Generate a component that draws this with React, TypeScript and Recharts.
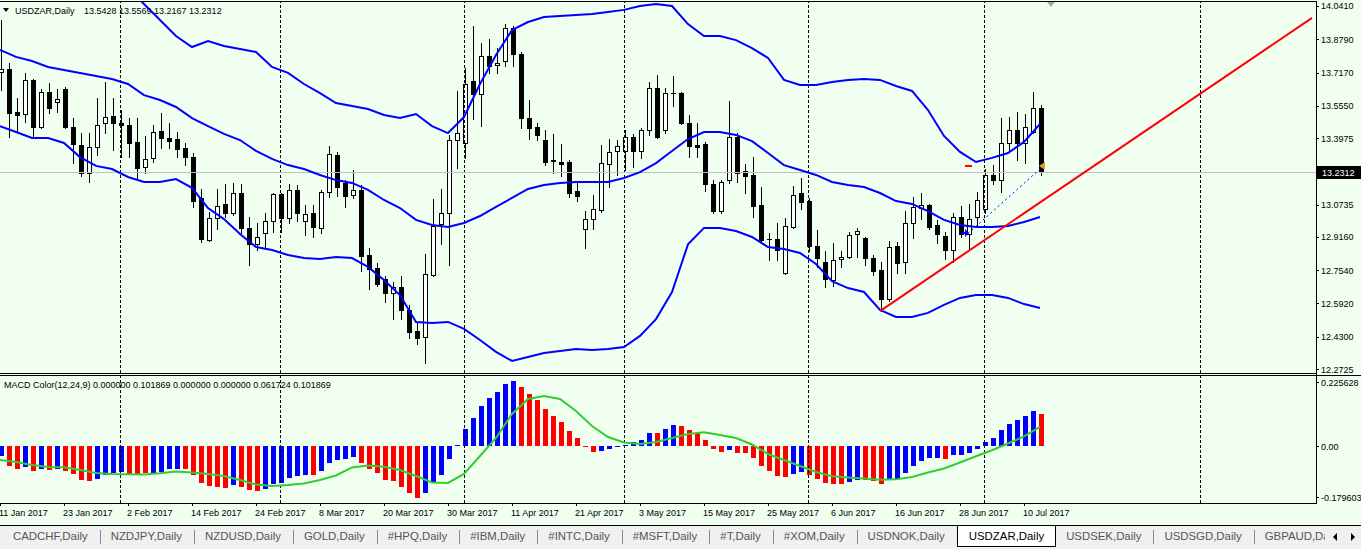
import React from 'react';
import { ComposedChart, Bar, Line, XAxis, YAxis, ReferenceLine, ReferenceDot } from 'recharts';

const FONT = '"Liberation Sans", Arial, sans-serif';
const BG = '#F0FFF0';

// ---------- Data ----------
const symbolName = 'USDZAR,Daily';

const opens = [
  13.720, 13.734, 13.525, 13.515, 13.681, 13.452, 13.622, 13.573, 13.637, 13.452,
  13.364, 13.228, 13.354, 13.471, 13.505, 13.471, 13.461, 13.379, 13.257, 13.301,
  13.432, 13.398, 13.393, 13.349, 13.305, 13.106, 12.901, 13.008, 13.077, 13.033,
  13.130, 12.960, 12.882, 12.935, 12.994, 13.125, 13.008, 13.145, 12.994, 13.033,
  12.960, 13.135, 13.315, 13.179, 13.120, 13.145, 12.828, 12.765, 12.711, 12.643,
  12.672, 12.560, 12.458, 12.429, 12.731, 12.979, 13.033, 13.388, 13.374, 13.676,
  13.612, 13.797, 13.754, 13.773, 13.934, 13.807, 13.495, 13.452, 13.388, 13.291,
  13.281, 13.281, 13.140, 12.955, 13.003, 13.047, 13.271, 13.335, 13.335, 13.403,
  13.335, 13.437, 13.642, 13.437, 13.617, 13.617, 13.471, 13.364, 13.369, 13.174,
  13.042, 13.193, 13.403, 13.237, 13.218, 13.072, 12.906, 12.906, 12.740, 12.965,
  13.130, 13.091, 12.872, 12.794, 12.706, 12.809, 12.818, 12.930, 12.911, 12.813,
  12.755, 12.614, 12.872, 12.794, 12.984, 13.057, 13.072, 12.974, 12.921, 12.852,
  13.013, 12.930, 13.013, 13.052, 13.218, 13.193, 13.374, 13.437, 13.374, 13.427,
  13.5428,
];
const highs = [
  13.973, 13.763, 13.593, 13.715, 13.685, 13.637, 13.666, 13.637, 13.646, 13.495,
  13.422, 13.422, 13.593, 13.671, 13.593, 13.534, 13.495, 13.495, 13.408, 13.461,
  13.520, 13.471, 13.427, 13.374, 13.325, 13.150, 13.038, 13.150, 13.174, 13.179,
  13.174, 13.013, 12.984, 13.033, 13.130, 13.130, 13.174, 13.169, 13.072, 13.072,
  13.145, 13.359, 13.330, 13.193, 13.242, 13.169, 12.862, 12.789, 12.726, 12.697,
  12.726, 12.585, 12.502, 12.833, 13.101, 13.150, 13.413, 13.627, 13.739, 13.944,
  13.861, 13.880, 13.836, 13.953, 13.944, 13.817, 13.583, 13.471, 13.437, 13.418,
  13.369, 13.291, 13.184, 13.042, 13.120, 13.364, 13.393, 13.388, 13.437, 13.418,
  13.447, 13.671, 13.705, 13.642, 13.700, 13.622, 13.510, 13.471, 13.379, 13.193,
  13.193, 13.578, 13.422, 13.271, 13.305, 13.159, 12.935, 12.984, 13.008, 13.164,
  13.203, 13.106, 12.950, 12.848, 12.887, 12.848, 12.940, 12.960, 12.916, 12.828,
  12.794, 12.896, 12.891, 13.042, 13.111, 13.130, 13.077, 12.999, 12.940, 13.033,
  13.067, 13.077, 13.135, 13.247, 13.266, 13.495, 13.500, 13.525, 13.515, 13.622,
  13.5569,
];
const lows = [
  13.632, 13.403, 13.427, 13.476, 13.403, 13.447, 13.520, 13.525, 13.447, 13.276,
  13.213, 13.184, 13.315, 13.422, 13.340, 13.305, 13.305, 13.193, 13.228, 13.281,
  13.349, 13.349, 13.305, 13.266, 13.062, 12.891, 12.896, 12.955, 13.013, 13.023,
  12.935, 12.779, 12.852, 12.862, 12.940, 12.940, 12.984, 12.994, 12.926, 12.916,
  12.935, 13.111, 13.116, 13.062, 13.106, 12.750, 12.662, 12.677, 12.599, 12.516,
  12.516, 12.424, 12.395, 12.302, 12.726, 12.882, 12.779, 13.252, 13.301, 13.490,
  13.456, 13.715, 13.715, 13.749, 13.749, 13.447, 13.393, 13.388, 13.266, 13.228,
  13.213, 13.111, 13.091, 12.862, 12.955, 13.038, 13.159, 13.218, 13.242, 13.257,
  13.301, 13.413, 13.400, 13.422, 13.554, 13.466, 13.305, 13.305, 13.140, 13.033,
  13.033, 13.179, 13.184, 13.130, 13.013, 12.891, 12.804, 12.804, 12.736, 12.960,
  13.052, 12.848, 12.770, 12.672, 12.677, 12.770, 12.813, 12.818, 12.779, 12.731,
  12.555, 12.604, 12.740, 12.740, 12.911, 13.003, 12.955, 12.887, 12.809, 12.794,
  12.916, 12.862, 12.974, 13.033, 13.174, 13.135, 13.330, 13.291, 13.276, 13.422,
  13.2167,
];
const closes = [
  13.734, 13.520, 13.510, 13.681, 13.452, 13.622, 13.544, 13.588, 13.452, 13.369,
  13.228, 13.354, 13.461, 13.500, 13.471, 13.461, 13.374, 13.252, 13.296, 13.427,
  13.398, 13.383, 13.344, 13.305, 13.091, 12.906, 13.008, 13.067, 13.033, 13.130,
  12.960, 12.882, 12.916, 12.994, 13.125, 13.008, 13.145, 13.033, 13.028, 12.965,
  13.135, 13.320, 13.159, 13.116, 13.145, 12.823, 12.760, 12.687, 12.643, 12.672,
  12.560, 12.453, 12.424, 12.736, 12.969, 13.033, 13.388, 13.422, 13.661, 13.612,
  13.797, 13.749, 13.763, 13.934, 13.807, 13.495, 13.447, 13.413, 13.281, 13.286,
  13.271, 13.130, 13.116, 13.003, 13.052, 13.276, 13.330, 13.359, 13.403, 13.335,
  13.437, 13.642, 13.403, 13.617, 13.617, 13.471, 13.359, 13.354, 13.174, 13.042,
  13.184, 13.403, 13.228, 13.213, 13.067, 12.901, 12.906, 12.852, 12.969, 13.120,
  13.086, 12.872, 12.813, 12.711, 12.804, 12.818, 12.926, 12.945, 12.813, 12.750,
  12.614, 12.867, 12.789, 12.984, 13.062, 13.072, 12.965, 12.930, 12.852, 13.013,
  12.930, 13.003, 13.096, 13.218, 13.193, 13.374, 13.437, 13.374, 13.452, 13.544,
  13.2312,
];

// Bollinger bands, read every second bar (bars 0, 2, 4 ... 130)
const bbUpper = [
  14.411, 14.392, 14.372, 14.353, 14.323, 14.289, 14.246, 14.197, 14.129, 14.051,
  13.973, 13.895, 13.841, 13.870, 13.846, 13.832, 13.817, 13.744, 13.715, 13.661,
  13.617, 13.568, 13.554, 13.539, 13.510, 13.495, 13.515, 13.456, 13.422, 13.500,
  13.661, 13.802, 13.924, 13.963, 13.987, 13.992, 13.997, 14.002, 14.012, 14.022,
  14.041, 14.051, 14.041, 13.953, 13.895, 13.895, 13.875, 13.836, 13.788, 13.681,
  13.656, 13.656, 13.671, 13.681, 13.685, 13.681, 13.651, 13.627, 13.534, 13.408,
  13.330, 13.281, 13.301, 13.325, 13.379, 13.466,
];
const bbMiddle = [
  13.827, 13.793, 13.773, 13.744, 13.729, 13.715, 13.700, 13.685, 13.661, 13.607,
  13.583, 13.549, 13.495, 13.456, 13.418, 13.388, 13.335, 13.296, 13.266, 13.247,
  13.218, 13.193, 13.179, 13.145, 13.096, 13.057, 12.999, 12.974, 12.965, 12.984,
  13.018, 13.062, 13.106, 13.150, 13.169, 13.179, 13.184, 13.184, 13.184, 13.203,
  13.232, 13.276, 13.335, 13.393, 13.427, 13.427, 13.413, 13.383, 13.325, 13.266,
  13.242, 13.218, 13.184, 13.169, 13.159, 13.130, 13.091, 13.077, 13.042, 12.999,
  12.974, 12.965, 12.965, 12.969, 12.989, 13.013,
];
const bbLower = [
  13.456, 13.427, 13.398, 13.398, 13.374, 13.305, 13.262, 13.247, 13.208, 13.184,
  13.184, 13.198, 13.155, 13.057, 13.003, 12.930, 12.867, 12.852, 12.828, 12.813,
  12.809, 12.818, 12.813, 12.770, 12.706, 12.633, 12.502, 12.497, 12.502, 12.468,
  12.414, 12.356, 12.312, 12.331, 12.351, 12.361, 12.370, 12.365, 12.370, 12.380,
  12.434, 12.516, 12.648, 12.880, 12.960, 12.960, 12.945, 12.916, 12.867, 12.857,
  12.838, 12.784, 12.701, 12.667, 12.648, 12.560, 12.526, 12.526, 12.546, 12.585,
  12.619, 12.633, 12.633, 12.619, 12.589, 12.570,
];

// MACD histogram (one per bar) and colour (b = rising / blue, r = falling / red)
const macdHist = [
  -0.0307, -0.0624, -0.0709, -0.0646, -0.0772, -0.0728, -0.0741, -0.0709, -0.0772, -0.0867,
  -0.1067, -0.1089, -0.1026, -0.0918, -0.0855, -0.0804, -0.0877, -0.0886, -0.0860, -0.0855,
  -0.0804, -0.0728, -0.0709, -0.0728, -0.0899, -0.1152, -0.1257, -0.1298, -0.1320, -0.1216,
  -0.1279, -0.1384, -0.1406, -0.1342, -0.1184, -0.1152, -0.1004, -0.0940, -0.0899, -0.0915,
  -0.0772, -0.0519, -0.0420, -0.0405, -0.0329, -0.0519, -0.0709, -0.0855, -0.1067, -0.1108,
  -0.1298, -0.1469, -0.1627, -0.1488, -0.1152, -0.0899, -0.0393, 0.0032, 0.0548, 0.0905,
  0.1285, 0.1539, 0.1729, 0.1972, 0.2067, 0.1887, 0.1656, 0.1466, 0.1181, 0.0959,
  0.0769, 0.0484, 0.0263, -0.0016, -0.0171, -0.0139, -0.0085, -0.0032, 0.0041, 0.0127,
  0.0199, 0.0431, 0.0412, 0.0548, 0.0674, 0.0643, 0.0516, 0.0431, 0.0199, -0.0085,
  -0.0171, -0.0117, -0.0203, -0.0222, -0.0361, -0.0614, -0.0772, -0.0940, -0.0962, -0.0877,
  -0.0804, -0.0899, -0.1026, -0.1152, -0.1194, -0.1203, -0.1121, -0.1067, -0.1076, -0.1099,
  -0.1194, -0.1067, -0.1045, -0.0836, -0.0624, -0.0456, -0.0380, -0.0361, -0.0402, -0.0275,
  -0.0266, -0.0203, -0.0085, 0.0146, 0.0272, 0.0516, 0.0706, 0.0833, 0.0969, 0.1127,
  0.101869,
];
const macdColors =
  'brrbrbrbrr' + 'rrbbbbrrrb' + 'bbbrrrrrrb' + 'rrrbbbbbbr' + 'bbbbbrrrrr' +
  'rrrbbbbbbb' + 'bbbbbrrrrr' + 'rrrrrbbbbb' + 'bbrbbrrrrr' + 'rbrrrrrrrb' +
  'brrrrrbbrr' + 'rbbbbbbbrb' + 'bbbbbbbbbb' + 'r';
// Signal line, read every second bar
const macdSignal = [
  -0.0434, -0.0497, -0.0592, -0.0655, -0.0665, -0.0750, -0.0845, -0.0877, -0.0886, -0.0896,
  -0.0855, -0.0798, -0.0829, -0.0877, -0.0940, -0.1067, -0.1209, -0.1257, -0.1225, -0.1178,
  -0.1067, -0.0924, -0.0671, -0.0608, -0.0649, -0.0750, -0.0940, -0.1146, -0.1162, -0.0877,
  -0.0307, 0.0263, 0.1023, 0.1498, 0.1592, 0.1498, 0.1118, 0.0643, 0.0294, 0.0120,
  0.0073, 0.0136, 0.0263, 0.0389, 0.0443, 0.0358, 0.0263, 0.0057, -0.0244, -0.0434,
  -0.0624, -0.0814, -0.0947, -0.0988, -0.1019, -0.1061, -0.1048, -0.0972, -0.0829, -0.0703,
  -0.0513, -0.0317, -0.0127, 0.0089, 0.0310, 0.0617,
];
const macdHeaderValues = [0, 0.101869, 0, 0, 0.061724, 0.101869];

// Drawn objects
const trendLine = [{ i: 110, v: 12.555 }, { i: 164, v: 13.983 }];
const tradeLine = [{ i: 121, v: 12.933 }, { i: 130, v: 13.247 }];
const tradeOpen = { i: 121, v: 12.935 };
const tradeStop = { i: 121, v: 13.263 };
const tradeClose = { i: 130, v: 13.262 };

// Axes
const totalSlots = 165;
const bandStep = 2;
const monthStarts = [15, 35, 58, 78, 101, 123, 150];
const dateTicks = [0, 8, 16, 24, 32, 40, 48, 56, 64, 72, 80, 88, 96, 104, 112, 120, 128];
const dateLabels = [
  '11 Jan 2017', '23 Jan 2017', '2 Feb 2017', '14 Feb 2017', '24 Feb 2017', '8 Mar 2017',
  '20 Mar 2017', '30 Mar 2017', '11 Apr 2017', '21 Apr 2017', '3 May 2017', '15 May 2017',
  '25 May 2017', '6 Jun 2017', '16 Jun 2017', '28 Jun 2017', '10 Jul 2017',
];
const priceTicks = [14.041, 13.879, 13.717, 13.555, 13.3975, 13.0735, 12.916, 12.754, 12.592, 12.43, 12.2725];
const priceDomain = [12.2533, 14.0653];
const macdTicks = [0.225628, 0, -0.179603];
const macdDomain = [-0.179603, 0.225628];

const tabs = [
  'CADCHF,Daily', 'NZDJPY,Daily', 'NZDUSD,Daily', 'GOLD,Daily', '#HPQ,Daily', '#IBM,Daily',
  '#INTC,Daily', '#MSFT,Daily', '#T,Daily', '#XOM,Daily', 'USDNOK,Daily', 'USDZAR,Daily',
  'USDSEK,Daily', 'USDSGD,Daily', 'GBPAUD,Daily',
];
const activeTab = 'USDZAR,Daily';

// ---------- Chart tables ----------
const last = closes.length - 1;
const mainData = Array.from({ length: totalSlots }, (_, i) => {
  const row: any = { i };
  if (i < closes.length) {
    row.open = opens[i];
    row.high = highs[i];
    row.low = lows[i];
    row.close = closes[i];
    row.range = [lows[i], highs[i]];
  }
  if (i % bandStep === 0 && i / bandStep < bbUpper.length) {
    row.upper = bbUpper[i / bandStep];
    row.middle = bbMiddle[i / bandStep];
    row.lower = bbLower[i / bandStep];
  }
  trendLine.forEach((p) => { if (p.i === i) row.trend = p.v; });
  tradeLine.forEach((p) => { if (p.i === i) row.trade = p.v; });
  return row;
});
const macdData = Array.from({ length: totalSlots }, (_, i) => {
  const row: any = { i };
  if (i < macdHist.length) {
    row.macd = macdHist[i];
    row.col = macdColors[i];
  }
  if (i % bandStep === 0 && i / bandStep < macdSignal.length) row.signal = macdSignal[i / bandStep];
  return row;
});

// ---------- Shapes ----------
const Candle = (props: any) => {
  const { x, y, width, height, payload } = props;
  if (!payload || payload.open == null || !isFinite(y) || !isFinite(height)) return null;
  const top = Math.min(y, y + height);
  const h = Math.abs(height);
  const { open, close, high, low } = payload;
  const py = (v: number) => top + ((high - v) / (high - low)) * h;
  const cx = Math.round(x + width / 2);
  const yo = py(open);
  const yc = py(close);
  const bTop = Math.round(Math.min(yo, yc));
  const bBot = Math.round(Math.max(yo, yc));
  const bull = close > open;
  return (
    <g shapeRendering="crispEdges">
      <line x1={cx + 0.5} x2={cx + 0.5} y1={Math.round(top)} y2={Math.round(top + h) + 1} stroke="#000" />
      {bBot - bTop < 1 ? (
        <line x1={cx - 2} x2={cx + 3} y1={bTop + 0.5} y2={bTop + 0.5} stroke="#000" />
      ) : bull ? (
        <rect x={cx - 1.5} y={bTop + 0.5} width={4} height={bBot - bTop} fill="#fff" stroke="#000" />
      ) : (
        <rect x={cx - 2} y={bTop} width={5} height={bBot - bTop + 1} fill="#000" />
      )}
    </g>
  );
};

const MacdBar = (props: any) => {
  const { x, y, width, height, payload } = props;
  if (!payload || payload.macd == null || !isFinite(y) || !isFinite(height)) return null;
  const top = Math.min(y, y + height);
  const h = Math.max(Math.abs(height), 1);
  const cx = Math.round(x + width / 2);
  return (
    <rect x={cx - 2} y={top} width={5} height={h} fill={payload.col === 'b' ? '#0000FF' : '#FF0000'} shapeRendering="crispEdges" />
  );
};

const GridV = (props: any) => {
  const { x1, y1, y2 } = props;
  const px = Math.round(x1) + 0.5;
  return <line x1={px} x2={px} y1={y1} y2={y2} stroke="#000" strokeDasharray="3 2" shapeRendering="crispEdges" />;
};
const BidLine = (props: any) => {
  const { x1, x2, y1 } = props;
  const py = Math.round(y1) + 0.5;
  return <line x1={x1} x2={x2} y1={py} y2={py} stroke="#C0C0C0" shapeRendering="crispEdges" />;
};

const PriceTag = (props: any) => {
  const vb = props.viewBox || {};
  const x = (vb.x || 0) + (vb.width || 0);
  const y = Math.round(vb.y || 0);
  return (
    <g>
      <rect x={x + 1} y={y - 6} width={45} height={13} fill="#000" />
      <text x={x + 6} y={y + 3.5} fill="#fff" fontSize={9} fontFamily={FONT}>
        {closes[last].toFixed(4)}
      </text>
    </g>
  );
};

const PriceTick = (props: any) => {
  const { x, y, payload } = props;
  const py = Math.round(y) + 0.5;
  return (
    <g>
      <line x1={x} x2={x + 3} y1={py} y2={py} stroke="#000" shapeRendering="crispEdges" />
      <text x={x + 5} y={y + 3.5} fontSize={9} fontFamily={FONT} fill="#000">
        {Number(payload.value).toFixed(4)}
      </text>
    </g>
  );
};

const MacdTick = (props: any) => {
  const { x, y, payload } = props;
  const v = Number(payload.value);
  let ty = y;
  if (v === macdDomain[1]) ty = y + 7;
  if (v === macdDomain[0]) ty = y - 6;
  const py = Math.round(ty) + 0.5;
  const label = v === 0 ? '0.00' : v.toFixed(6);
  return (
    <g>
      <line x1={x} x2={x + 3} y1={py} y2={py} stroke="#000" shapeRendering="crispEdges" />
      <text x={x + 5} y={ty + 3.5} fontSize={9} fontFamily={FONT} fill="#000">{label}</text>
    </g>
  );
};

const DateTick = (props: any) => {
  const { x, y, payload } = props;
  const k = dateTicks.indexOf(Number(payload.value));
  if (k < 0) return null;
  const px = Math.round(x);
  return (
    <g>
      <line x1={px + 0.5} x2={px + 0.5} y1={y} y2={y + 3} stroke="#000" shapeRendering="crispEdges" />
      <text x={px - 1} y={y + 13} fontSize={9} fontFamily={FONT} fill="#000">{dateLabels[k]}</text>
    </g>
  );
};

const BuyArrow = (props: any) => {
  const { cx, cy } = props;
  const x = Math.round(cx);
  const y = Math.round(cy);
  return (
    <g fill="#0000FF">
      <rect x={x - 6} y={y - 1} width={4} height={2} />
      <polygon points={`${x - 3},${y - 4} ${x + 1},${y} ${x - 3},${y + 4}`} />
    </g>
  );
};
const StopDash = (props: any) => {
  const { cx, cy } = props;
  const y = Math.round(cy);
  return <rect x={Math.round(cx) - 3} y={y - 1} width={7} height={2} fill="#FF0000" />;
};
const CloseMark = (props: any) => {
  const { cx, cy } = props;
  const x = Math.round(cx);
  const y = Math.round(cy);
  return <polygon points={`${x - 1},${y} ${x + 5},${y - 4} ${x + 5},${y + 4}`} fill="#DAA520" />;
};

// ---------- App ----------
export default function App() {
  const W = 1361;
  const H = 549;
  return (
    <div style={{ position: 'fixed', left: 0, top: 0, width: W, height: H, background: BG, overflow: 'hidden', fontFamily: FONT }}>
      {/* main price panel */}
      <div style={{ position: 'absolute', left: -4, top: 1, width: 1365, height: 372, overflow: 'hidden' }}>
        <ComposedChart width={1365} height={372} data={mainData} margin={{ top: 0, right: 0, bottom: 0, left: 0 }}>
          <XAxis dataKey="i" type="category" scale="band" hide />
          <YAxis
            orientation="right"
            width={45}
            domain={priceDomain}
            allowDataOverflow
            ticks={priceTicks}
            interval={0}
            axisLine={false}
            tickLine={false}
            tickSize={0}
            tickMargin={0}
            tick={<PriceTick />}
          />
          {monthStarts.map((m) => (
            <ReferenceLine key={'g' + m} x={m} shape={<GridV />} />
          ))}
          <ReferenceLine y={closes[last]} shape={<BidLine />} label={<PriceTag />} />
          <Line dataKey="upper" stroke="#0000FF" strokeWidth={2} dot={false} activeDot={false} connectNulls isAnimationActive={false} />
          <Line dataKey="middle" stroke="#0000FF" strokeWidth={2} dot={false} activeDot={false} connectNulls isAnimationActive={false} />
          <Line dataKey="lower" stroke="#0000FF" strokeWidth={2} dot={false} activeDot={false} connectNulls isAnimationActive={false} />
          <Bar dataKey="range" barSize={5} shape={Candle} isAnimationActive={false} />
          <Line dataKey="trend" stroke="#FF0000" strokeWidth={2} dot={false} activeDot={false} connectNulls isAnimationActive={false} />
          <Line dataKey="trade" stroke="#0000FF" strokeWidth={1} strokeDasharray="2 3" dot={false} activeDot={false} connectNulls isAnimationActive={false} />
          <ReferenceDot x={tradeOpen.i} y={tradeOpen.v} r={0} shape={<BuyArrow />} />
          <ReferenceDot x={tradeStop.i} y={tradeStop.v} r={0} shape={<StopDash />} />
          <ReferenceDot x={tradeClose.i} y={tradeClose.v} r={0} shape={<CloseMark />} />
        </ComposedChart>
      </div>

      {/* MACD panel */}
      <div style={{ position: 'absolute', left: -4, top: 375, width: 1365, height: 150, overflow: 'hidden' }}>
        <ComposedChart width={1365} height={150} data={macdData} margin={{ top: 0, right: 0, bottom: 0, left: 0 }}>
          <XAxis
            dataKey="i"
            type="category"
            scale="band"
            height={22}
            ticks={dateTicks}
            interval={0}
            axisLine={false}
            tickLine={false}
            tickSize={0}
            tickMargin={0}
            tick={<DateTick />}
          />
          <YAxis
            orientation="right"
            width={45}
            domain={macdDomain}
            allowDataOverflow
            ticks={macdTicks}
            interval={0}
            axisLine={false}
            tickLine={false}
            tickSize={0}
            tickMargin={0}
            tick={<MacdTick />}
          />
          {monthStarts.map((m) => (
            <ReferenceLine key={'m' + m} x={m} shape={<GridV />} />
          ))}
          <Bar dataKey="macd" barSize={5} shape={MacdBar} isAnimationActive={false} />
          <Line dataKey="signal" stroke="#32CD32" strokeWidth={2} dot={false} activeDot={false} connectNulls isAnimationActive={false} />
        </ComposedChart>
      </div>

      {/* panel frames */}
      <div style={{ position: 'absolute', left: 0, top: 1, width: 1317, height: 1, background: '#000' }} />
      <div style={{ position: 'absolute', left: 0, top: 373, width: 1317, height: 1, background: '#000' }} />
      <div style={{ position: 'absolute', left: 0, top: 375, width: W, height: 1, background: '#000' }} />
      <div style={{ position: 'absolute', left: 0, top: 503, width: 1317, height: 1, background: '#000' }} />
      <div style={{ position: 'absolute', left: 1316, top: 1, width: 1, height: 503, background: '#000' }} />

      {/* headers */}
      <svg style={{ position: 'absolute', left: 0, top: 0 }} width={420} height={20}>
        <polygon points="3,8 9,8 6,12" fill="#000" />
        <text x={15} y={13.5} fontSize={9} fontFamily={FONT} fill="#000">{symbolName}</text>
        <text x={84} y={13.5} fontSize={9} fontFamily={FONT} fill="#000">
          {[opens[last], highs[last], lows[last], closes[last]].map((v) => v.toFixed(4)).join(' ')}
        </text>
      </svg>
      <svg style={{ position: 'absolute', left: 1040, top: 0 }} width={20} height={10}>
        <polygon points="7,2 15,2 11,7" fill="#A8A8A8" />
      </svg>
      <svg style={{ position: 'absolute', left: 0, top: 376 }} width={420} height={16}>
        <text x={4} y={11.5} fontSize={9} fontFamily={FONT} fill="#000">
          {'MACD Color(12,24,9) ' + macdHeaderValues.map((v) => v.toFixed(6)).join(' ')}
        </text>
      </svg>

      {/* tab bar */}
      <div style={{ position: 'absolute', left: 0, top: 525, width: W, height: 24, background: '#F0F0F0' }}>
        <div style={{ position: 'absolute', left: 0, top: 0, width: W, height: 1, background: '#000' }} />
        <div style={{ position: 'absolute', left: 3, top: 1, height: 21, display: 'flex', alignItems: 'center', fontSize: 11.4, whiteSpace: 'nowrap' }}>
          {tabs.map((t, k) => {
            const sel = t === activeTab;
            const nextSel = tabs[k + 1] === activeTab;
            if (sel) {
              return (
                <div key={t} style={{ height: 21, lineHeight: '20px', padding: '0 11px', background: '#fff', borderLeft: '1px solid #000', borderRight: '1px solid #000', borderBottom: '1px solid #000', boxSizing: 'border-box', color: '#000' }}>
                  {t}
                </div>
              );
            }
            return (
              <React.Fragment key={t}>
                <div style={{ padding: nextSel ? '0 12px 0 10px' : '0 12px 0 10px', color: '#555', lineHeight: '21px' }}>{t}</div>
                {!nextSel && k < tabs.length - 1 ? <div style={{ width: 1, height: 14, background: '#8A8A8A' }} /> : null}
              </React.Fragment>
            );
          })}
        </div>
        <div style={{ position: 'absolute', left: 1325, top: 1, width: 36, height: 23, background: '#F0F0F0' }}>
          <svg width={36} height={23}>
            <polygon points="8,11 12,7 12,15" fill="#000" />
            <polygon points="26,7 30,11 26,15" fill="#000" />
          </svg>
        </div>
      </div>
    </div>
  );
}
